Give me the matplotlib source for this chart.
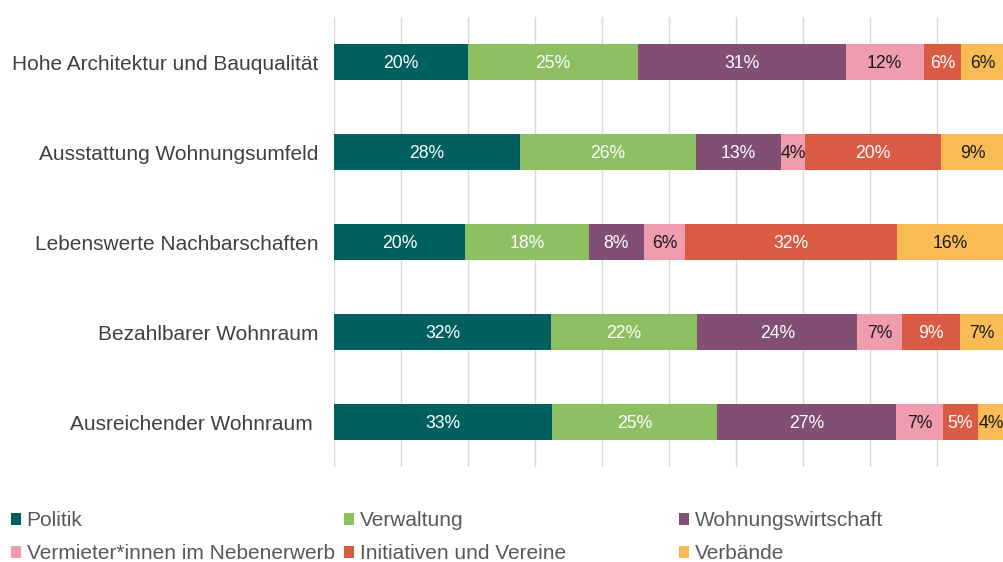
import matplotlib.pyplot as plt
import numpy as np
from matplotlib.patches import Patch

plt.rcParams['font.family'] = ['Liberation Sans', 'DejaVu Sans']

# categories, top to bottom
categories = ["Hohe Architektur und Bauqualität", "Ausstattung Wohnungsumfeld",
              "Lebenswerte Nachbarschaften", "Bezahlbarer Wohnraum", "Ausreichender Wohnraum "]

series_names = ["Politik", "Verwaltung", "Wohnungswirtschaft",
                "Vermieter*innen im Nebenerwerb", "Initiativen und Vereine", "Verbände"]

# shares in percent
politik = [20.0, 27.8, 19.6, 32.4, 32.6]
verwaltung = [25.4, 26.2, 18.4, 21.8, 24.6]
wohnungswirtschaft = [31.0, 12.7, 8.3, 23.9, 26.7]
vermieter = [11.6, 3.6, 6.1, 6.7, 7.0]
initiativen = [5.6, 20.3, 31.7, 8.6, 5.2]
verbaende = [6.4, 9.4, 15.9, 6.6, 3.9]

colors = ["#00605F", "#8DC063", "#814E74", "#F09CAF", "#DA5B43", "#F9BC55"]
label_colors = ["white", "white", "white", "#1a1a1a", "white", "#1a1a1a"]

series = [politik, verwaltung, wohnungswirtschaft, vermieter, initiativen, verbaende]

fig = plt.figure(figsize=(10.04, 5.62), dpi=100)
ax = fig.add_axes([334 / 1004, 1 - 467 / 562, 670 / 1004, 450 / 562])

y = np.arange(len(categories))
left = np.zeros(len(categories))
for name, vals, col, tcol in zip(series_names, series, colors, label_colors):
    vals = np.array(vals)
    bars = ax.barh(y, vals, left=left, height=0.4, color=col, label=name, zorder=3)
    texts = ax.bar_label(bars, labels=[f"{v:.0f}%" for v in vals], label_type='center',
                         color=tcol, fontsize=12.7)
    for t in texts:
        t.set_va('center_baseline')
    left += vals

ax.set_xlim(0, 100)
ax.set_ylim(len(categories) - 0.5, -0.5)
ax.set_yticks(y)
ax.set_yticklabels(categories, fontsize=15, color="#404040")
ax.tick_params(axis='y', length=0, pad=11.5)
ax.set_xticks(np.arange(0, 101, 10))
ax.tick_params(axis='x', length=0, labelbottom=False)
ax.grid(axis='x', color="#D9D9D9", linewidth=1, zorder=0)
ax.set_axisbelow(True)
for s in ax.spines.values():
    s.set_visible(False)

# legend: three columns of two entries each
col_x = [11, 344, 679]
for c, x0 in enumerate(col_x):
    idx = [c, c + 3]
    handles = [Patch(facecolor=colors[i], edgecolor='none') for i in idx]
    fig.legend(handles, [series_names[i] for i in idx], loc='upper left',
               bbox_to_anchor=(x0 / 1004, 1 - 511 / 562), frameon=False,
               fontsize=15, labelcolor="#595959", handlelength=0.5, handleheight=0.5,
               handletextpad=0.25, labelspacing=0.68, borderaxespad=0, borderpad=0)

fig.savefig("out.png", dpi=100)
